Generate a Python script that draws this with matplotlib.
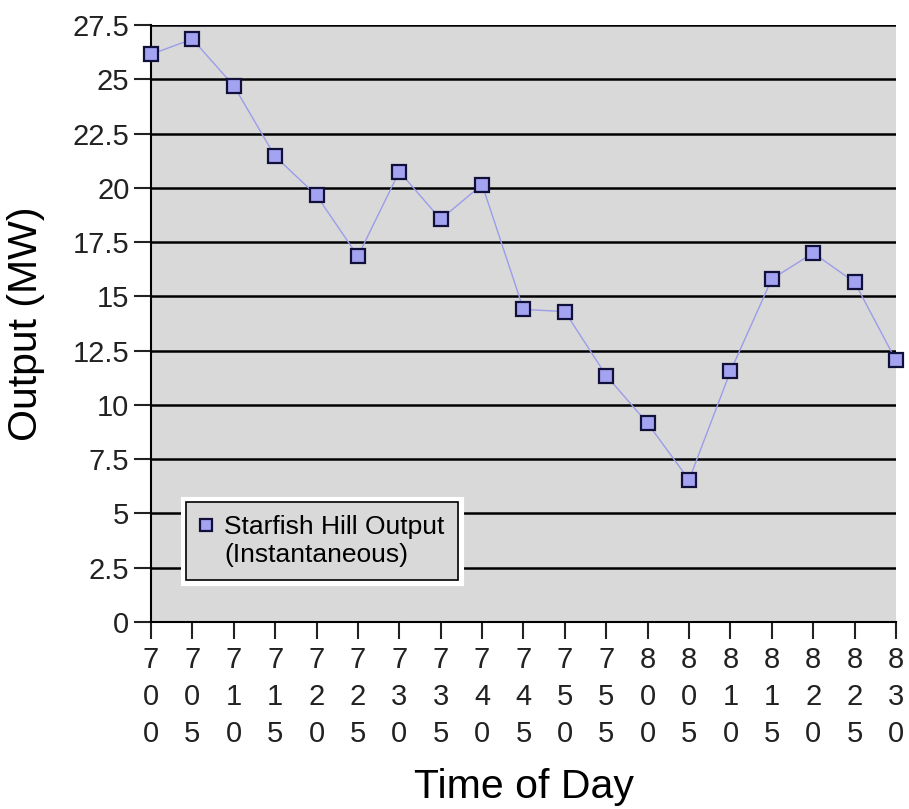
import matplotlib
matplotlib.use("Agg")
import numpy as np
import matplotlib.pyplot as plt
import matplotlib.patheffects as pe
from matplotlib.legend_handler import HandlerLine2D
from matplotlib.ticker import FuncFormatter, MultipleLocator

plt.rcParams['font.family'] = ['Liberation Sans', 'DejaVu Sans']

# times of day (hhmm) and instantaneous output in MW
times = ['700', '705', '710', '715', '720', '725', '730', '735', '740', '745',
         '750', '755', '800', '805', '810', '815', '820', '825', '830']
output_mw = [26.15, 26.85, 24.7, 21.45, 19.65, 16.85, 20.75, 18.55, 20.15, 14.4,
             14.3, 11.35, 9.15, 6.55, 11.55, 15.8, 17.0, 15.65, 12.05]


class FirstLineHandler(HandlerLine2D):
    # put the legend marker next to the first line of a two-line label
    def create_artists(self, legend, orig_handle, xdescent, ydescent,
                       width, height, fontsize, trans):
        arts = super().create_artists(legend, orig_handle, xdescent, ydescent,
                                      width, height, fontsize, trans)
        for a in arts:
            a.set_ydata(np.asarray(a.get_ydata()) + 0.6 * fontsize)
        return arts


fig = plt.figure(figsize=(9.09, 8.09), dpi=100)
ax = fig.add_axes([0.1661, 0.2311, 0.8196, 0.738])
ax.set_facecolor('#d9d9d9')

x = list(range(len(times)))
line, = ax.plot(x, output_mw, color='#9c9cea', lw=1.0, zorder=3,
                marker='s', markersize=10, markerfacecolor='#a3a3f2',
                markeredgecolor='#10103a', markeredgewidth=1.6, clip_on=False,
                label='Starfish Hill Output\n(Instantaneous)')

ax.set_xlim(0, 18)
ax.set_ylim(0, 27.5)
ax.yaxis.set_major_locator(MultipleLocator(2.5))
ax.yaxis.set_major_formatter(FuncFormatter(lambda v, p: '%g' % v))
ax.set_xticks(x)
ax.set_xticklabels(['\n'.join(t) for t in times], linespacing=1.42)

ax.grid(axis='y', color='black', lw=1.8, zorder=1)
ax.set_axisbelow(True)
for s in ['top', 'right']:
    ax.spines[s].set_visible(False)
ax.spines['left'].set_linewidth(1.5)
ax.spines['bottom'].set_linewidth(1.5)
ax.tick_params(axis='both', direction='out', length=12, width=1.5,
               labelsize=21, colors='#222222', labelcolor='#222222')
ax.tick_params(axis='x', pad=5)

ax.set_ylabel('Output (MW)', fontsize=29.5, labelpad=20)
ax.set_xlabel('Time of Day', fontsize=29.5, labelpad=14)

leg = ax.legend(loc='lower left', bbox_to_anchor=(0.047, 0.0704), borderaxespad=0,
                fontsize=19, frameon=True, fancybox=False, framealpha=1,
                borderpad=0.5, handlelength=0.55,
                handletextpad=0.4, markerscale=0.85,
                handler_map={line: FirstLineHandler()})
leg.get_texts()[0].set_linespacing(1.2)
frame = leg.get_frame()
frame.set_facecolor('#d9d9d9')
frame.set_edgecolor('black')
frame.set_linewidth(1.2)
frame.set_path_effects([pe.Stroke(linewidth=8, foreground='white'), pe.Normal()])
for h in leg.legend_handles:
    h.set_linestyle('none')

fig.savefig('out.png', dpi=100)
